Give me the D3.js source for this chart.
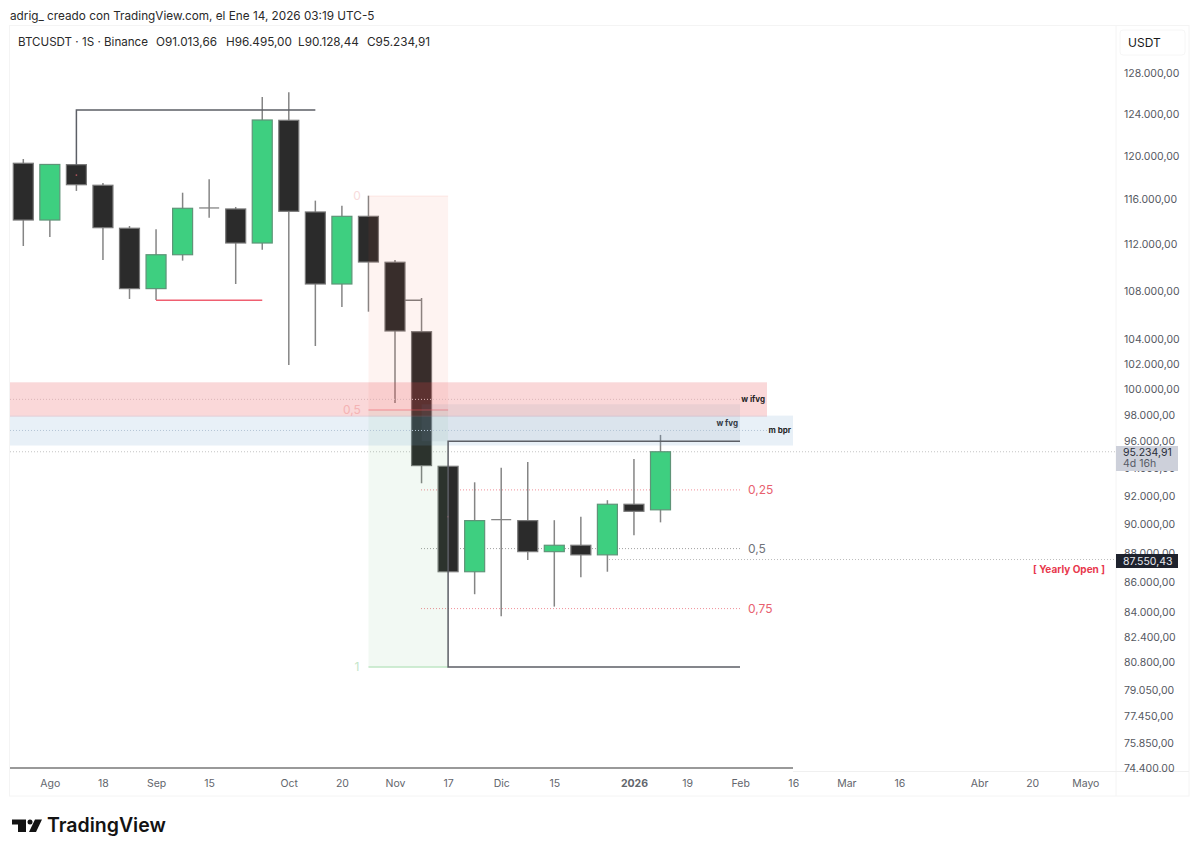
<!DOCTYPE html>
<html>
<head>
<meta charset="utf-8">
<script src="https://cdn.jsdelivr.net/npm/d3@7"></script>
<style>
	html, body { margin: 0; background: #fff; }
	svg { display: block; }
	text { font-family: Inter, 'Noto Sans', sans-serif; }
	.axis-y text { font-size: 10.5px; fill: #55585f; }
	.axis-x text { font-size: 10.5px; fill: #62656c; }
	.axis-y .domain, .axis-y line, .axis-x .domain, .axis-x line { display: none; }
</style>
</head>
<body>
<svg id="chart" width="1199" height="855"></svg>
<script>
const weeks = ['2025-07-28','2025-08-04','2025-08-11','2025-08-18','2025-08-25','2025-09-01','2025-09-08','2025-09-15','2025-09-22','2025-09-29','2025-10-06','2025-10-13','2025-10-20','2025-10-27','2025-11-03','2025-11-10','2025-11-17','2025-11-24','2025-12-01','2025-12-08','2025-12-15','2025-12-22','2025-12-29','2026-01-05','2026-01-12']
const opens = [119290,114120,119160,117260,113390,108170,111070,115200,115110,112090,123360,114840,108560,114450,110420,104590,94160,86720,90320,90250,88090,88530,87870,91410,91014]
const highs = [119690,119180,119160,117470,113590,113300,116580,117810,115290,125630,126100,115860,115400,116310,110610,107380,94160,92990,94060,94480,90280,90530,91700,94700,96495]
const lows = [111830,112620,116740,110610,107300,107210,110560,114330,108560,111510,101910,103430,106630,106240,98930,92920,86720,85210,83760,87520,84390,86350,86720,89220,90128]
const closes = [114120,119180,117310,113440,108170,111070,115170,115200,112090,123390,114900,108560,114450,110440,104650,94210,86720,90250,90320,88090,88530,87870,91410,90910,95235]

const priceTicks = [128000,124000,120000,116000,112000,108000,104000,102000,100000,98000,96000,94000,92000,90000,88000,86000,84000,82400,80800,79050,77450,75850,74400]
const dateTicks = ['2025-08-04','2025-08-18','2025-09-01','2025-09-15','2025-10-06','2025-10-20','2025-11-03','2025-11-17','2025-12-01','2025-12-15','2026-01-05','2026-01-19','2026-02-02','2026-02-16','2026-03-02','2026-03-16','2026-04-06','2026-04-20','2026-05-04']
const dateLabels = ['Ago','18','Sep','15','Oct','20','Nov','17','Dic','15','2026','19','Feb','16','Mar','16','Abr','20','Mayo']

const lastPrice = 95234.91
const yearlyOpen = 87550.43
const fibTop = 116280, fibMid = 98390, fibBottom = 80510
const ifvg = [100540, 97880], fvg = [98830, 96020], bpr = [97960, 95700]
const highLevel = 124360, lowLevel = 107190, rangeTop = 96020, rangeBottom = 80510
const smallLevel = 107190
const quarterLevels = [92440, 88300, 84260]
const quarterLabels = ['0,25', '0,5', '0,75']
const anchorDots = [[2, 118200], [16, 90530]]

const parse = d3.utcParse('%Y-%m-%d')
const svg = d3.select('#chart')

const x = d3.scaleUtc()
	.domain([parse(weeks[0]), parse(weeks[weeks.length - 1])])
	.range([23.3, 660.5])

const y = d3.scaleLog()
	.domain([74400, 128000])
	.range([768, 73])

const locale = d3.formatLocale({ decimal: ',', thousands: '.', grouping: [3], currency: ['', ''] })
const price = locale.format(',.2f')

const px = d => x(parse(d))
const hLine = (x1, x2, v, stroke, width, dash) => svg.append('line')
	.attr('x1', x1).attr('x2', x2).attr('y1', y(v)).attr('y2', y(v))
	.attr('stroke', stroke).attr('stroke-width', width)
	.attr('stroke-dasharray', dash || null)
const zone = (x1, x2, range, fill) => svg.append('rect')
	.attr('x', x1).attr('width', x2 - x1)
	.attr('y', y(range[0])).attr('height', y(range[1]) - y(range[0]))
	.attr('fill', fill)
const label = (tx, ty, str, size, fill, weight, anchor) => svg.append('text')
	.attr('x', tx).attr('y', ty).attr('dy', '0.35em')
	.attr('font-size', size).attr('fill', fill)
	.attr('font-weight', weight || 400)
	.attr('text-anchor', anchor || 'start')
	.text(str)

// frame
svg.append('rect').attr('x', 9.5).attr('y', 25.5).attr('width', 1179.5).attr('height', 770.5)
	.attr('fill', 'none').attr('stroke', '#f4f4f4')
svg.append('line').attr('x1', 1116).attr('x2', 1116).attr('y1', 26).attr('y2', 796).attr('stroke', '#f4f4f4')
svg.append('line').attr('x1', 793).attr('x2', 1189).attr('y1', 771.5).attr('y2', 771.5).attr('stroke', '#f0f0f0')
svg.append('rect').attr('x', 1120).attr('y', 30).attr('width', 65).attr('height', 25).attr('rx', 3)
	.attr('fill', '#fff').attr('stroke', '#f6f6f6')

// levels under the candles
hLine(10, 793, y.invert(768), '#777', 1.6)
hLine(10, 1117, lastPrice, '#c4c4c4', 1, '1 2')
hLine(609, 1117, yearlyOpen, '#bcbcbc', 1, '1 2')
quarterLevels.forEach((v, i) => {
	const col = i === 1 ? '#a0a0a0' : '#f0909a'
	hLine(421, 740, v, col, 1, '1 2')
	label(748, y(v), quarterLabels[i], 12, i === 1 ? '#70737a' : '#e8616f')
})

const xIdx = i => px(weeks[i])
svg.append('path')
	.attr('d', d3.line()([[xIdx(14), y(smallLevel)], [xIdx(15), y(smallLevel)]]))
	.attr('fill', 'none').attr('stroke', '#7d7d7d').attr('stroke-width', 1.5)

// candles
const candles = svg.append('g').selectAll('g')
	.data(weeks)
	.enter()
	.append('g')
	.attr('transform', d => 'translate(' + px(d) + ',0)')

candles.append('line')
	.attr('y1', (d, i) => y(highs[i]))
	.attr('y2', (d, i) => y(lows[i]))
	.attr('stroke', '#858585')
	.attr('stroke-width', 1.5)

candles.filter((d, i) => opens[i] !== closes[i]).append('rect')
	.attr('x', -10)
	.attr('width', 20)
	.attr('y', d => y(Math.max(opens[weeks.indexOf(d)], closes[weeks.indexOf(d)])))
	.attr('height', d => Math.abs(y(opens[weeks.indexOf(d)]) - y(closes[weeks.indexOf(d)])))
	.attr('fill', d => closes[weeks.indexOf(d)] > opens[weeks.indexOf(d)] ? '#3ecf80' : '#2b2b2b')
	.attr('stroke', d => closes[weeks.indexOf(d)] > opens[weeks.indexOf(d)] ? '#5f9478' : '#787878')
	.attr('stroke-width', 1.2)

// dojis are only a tick across the wick
candles.filter((d, i) => opens[i] === closes[i]).append('line')
	.attr('x1', -10)
	.attr('x2', 10)
	.attr('y1', d => y(opens[weeks.indexOf(d)]))
	.attr('y2', d => y(opens[weeks.indexOf(d)]))
	.attr('stroke', '#858585')
	.attr('stroke-width', 1.3)

// brackets drawn on top of the candles
const stroke = '#5c5f66'
svg.append('path')
	.attr('d', d3.line()([[xIdx(2), y(opens[2])], [xIdx(2), y(highLevel)], [xIdx(11), y(highLevel)]]))
	.attr('fill', 'none').attr('stroke', stroke).attr('stroke-width', 1.5)
hLine(xIdx(5), xIdx(9), lowLevel, '#ef5f70', 1.3)
svg.append('g').selectAll('circle')
	.data(anchorDots)
	.enter()
	.append('circle')
	.attr('cx', d => xIdx(d[0]))
	.attr('cy', d => y(d[1]))
	.attr('r', 0.9)
	.attr('fill', '#b0545c')

// fib box
zone(xIdx(13), xIdx(16), [fibTop, fibMid], 'rgba(242,90,60,0.07)')
zone(xIdx(13), xIdx(16), [fibMid, fibBottom], 'rgba(76,175,80,0.07)')
hLine(xIdx(13), xIdx(16), fibTop, 'rgba(242,90,60,0.1)', 1)
hLine(xIdx(13), xIdx(16), fibMid, 'rgba(235,90,100,0.55)', 1.2)
hLine(xIdx(13), xIdx(16), fibBottom, '#bfe6c4', 1.5)
label(357, y(fibTop), '0', 12, '#f8dcdc', 400, 'middle')
label(343, y(fibMid), '0,5', 12, '#f8d0d0')
label(357, y(fibBottom), '1', 12, '#c4e6c9', 400, 'middle')

// zones
zone(10, 767, ifvg, 'rgba(230,70,75,0.21)')
zone(10, 793, bpr, 'rgba(120,165,205,0.17)')
zone(xIdx(15), 740, fvg, 'rgba(110,130,160,0.10)')
hLine(10, 740, (ifvg[0] + ifvg[1]) / 2, '#dcb4b8', 1, '1 2')
hLine(10, 767, (bpr[0] + bpr[1]) / 2, '#b4c5d5', 1, '1 2')
label(765, y((ifvg[0] + ifvg[1]) / 2), 'w ifvg', 8, '#1f1f1f', 700, 'end')
label(738, 423, 'w fvg', 8, '#333a44', 700, 'end')
label(791, y((bpr[0] + bpr[1]) / 2), 'm bpr', 8, '#1f1f1f', 700, 'end')

// range bracket
svg.append('path')
	.attr('d', d3.line()([
		[740, y(rangeTop)], [xIdx(16), y(rangeTop)],
		[xIdx(16), y(rangeBottom)], [740, y(rangeBottom)]
	]))
	.attr('fill', 'none').attr('stroke', stroke).attr('stroke-width', 1.5)

// axes
svg.append('g')
	.attr('class', 'axis-y')
	.attr('transform', 'translate(1124,0)')
	.call(d3.axisRight(y).tickValues(priceTicks).tickFormat(price).tickSize(0).tickPadding(0))

svg.append('g')
	.attr('class', 'axis-x')
	.attr('transform', 'translate(0,776)')
	.call(d3.axisBottom(x).tickValues(dateTicks.map(parse)).tickFormat((d, i) => dateLabels[i]).tickSize(0).tickPadding(4))
	.selectAll('text')
	.attr('font-weight', (d, i) => dateLabels[i] === '2026' ? 700 : 400)

// covers the clipped 74.400 tick like the time scale does
svg.append('rect').attr('x', 1117).attr('y', 772).attr('width', 71).attr('height', 23).attr('fill', '#fff')

// price tags
svg.append('rect').attr('x', 1116).attr('y', 446).attr('width', 62).attr('height', 25).attr('fill', '#cdd0da')
label(1123, 452.5, price(lastPrice), 10.5, '#2a2e39')
label(1123, 463.5, '4d 16h', 10.5, '#565a66')
svg.append('rect').attr('x', 1116).attr('y', 554).attr('width', 62).attr('height', 14).attr('fill', '#1e222d')
label(1123, 561, price(yearlyOpen), 10.5, '#e6e8ee')
label(1069, 569, '[ Yearly Open ]', 10, '#e8394d', 700, 'middle')

// header
label(1128, 43, 'USDT', 12, '#1a1a1a')
label(10, 15.5, 'adrig_ creado con TradingView.com, el Ene 14, 2026 03:19 UTC-5', 11.75, '#2a2a2a')
label(18, 42, 'BTCUSDT · 1S · Binance', 11.6, '#2a2a2a')
label(156, 42, 'O91.013,66', 11.75, '#2a2a2a')
label(226, 42, 'H96.495,00', 11.75, '#2a2a2a')
label(298, 42, 'L90.128,44', 11.75, '#2a2a2a')
label(367, 42, 'C95.234,91', 11.75, '#2a2a2a')

// logo
const logo = svg.append('g').attr('fill', '#131313')
logo.append('path').attr('d', 'M12 819.5H26V832H18V824.5H12Z')
logo.append('circle').attr('cx', 30).attr('cy', 822).attr('r', 2.5)
logo.append('path').attr('d', 'M35 819.5H42L36 832H29Z')
label(47, 825.5, 'TradingView', 19.5, '#131313', 600)
</script>
</body>
</html>
